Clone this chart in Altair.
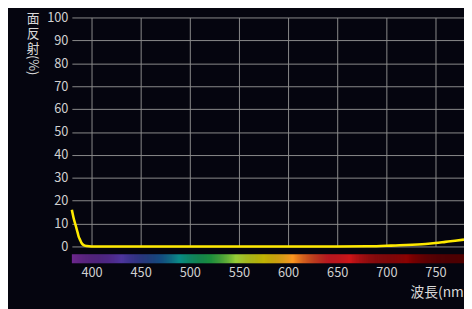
import altair as alt
import pandas as pd

# Reflectance curve
wavelength = [380, 382, 384, 386, 387, 388, 390, 392, 395, 400, 450, 500, 550, 600, 650, 680,
              700, 720, 740, 750, 760, 770, 779]
reflectance = [16.0, 12.0, 9.0, 5.8, 4.2, 3.2, 1.4, 0.6, 0.2, 0.0, 0.0, 0.0, 0.0, 0.0, 0.0, 0.05,
               0.3, 0.6, 1.1, 1.5, 2.0, 2.5, 3.0]

# Spectrum colour stops
spec_wl = [380, 420, 445, 470, 490, 520, 550, 575, 600, 640, 680, 730, 779]
spec_colors = ["#7d2ea0", "#5c30a0", "#3e40a0", "#1a60a0", "#0a9088", "#22bb4e", "#aad434",
               "#ffee00", "#ffa620", "#f01e26", "#b81010", "#820000", "#500000"]

x_ticks = [400, 450, 500, 550, 600, 650, 700, 750]
y_ticks = [0, 10, 20, 30, 40, 50, 60, 70, 80, 90, 100]

curve = pd.DataFrame({"wl": wavelength, "r": reflectance})
spec = pd.DataFrame({"wl": list(range(380, 779))})
spec["wl2"] = spec["wl"] + 1

FONT = "Noto Sans CJK JP"
H = 233

xscale = alt.Scale(domain=[380, 779], nice=False, zero=False)

base_x = alt.X("wl:Q", scale=xscale,
               axis=alt.Axis(values=x_ticks, title="波長(nm)", titleX=403, titleY=47,
                             titleAlign="right", titleBaseline="middle", titleAngle=0,
                             titleFontSize=14, titleFontWeight="normal", titleColor="#d8d8d8",
                             titleFont=FONT,
                             labelPadding=21, labelBaseline="top", labelFontSize=13,
                             labelColor="#d0d0d0", labelFont=FONT, tickSize=0, domain=False,
                             gridColor="#8c8c8c", gridWidth=1))

line = alt.Chart(curve).mark_line(color="#ffea00", strokeWidth=2.6, interpolate="monotone").encode(
    x=base_x,
    y=alt.Y("r:Q", scale=alt.Scale(domain=[0, 100], nice=False),
            axis=alt.Axis(values=y_ticks, title=["面", "反", "射"], titleAngle=0,
                          titleAlign="center", titleBaseline="top", titleX=-40, titleY=-5,
                          titleLineHeight=15.5, titleFontSize=13, titleFontWeight="normal",
                          titleColor="#d8d8d8", titleFont=FONT,
                          labelFontSize=13, labelColor="#d0d0d0", labelFont=FONT,
                          labelPadding=4, tickSize=0, domain=False,
                          gridColor="#8c8c8c", gridWidth=1)),
)

spectrum = alt.Chart(spec).mark_rect().encode(
    x=alt.X("wl:Q", scale=xscale),
    x2="wl2:Q",
    y=alt.value(H + 8),
    y2=alt.value(H + 17),
    color=alt.Color("wl:Q", scale=alt.Scale(domain=spec_wl, range=spec_colors, interpolate="rgb"),
                    legend=None),
)

pct = alt.Chart(pd.DataFrame({"t": ["(%)"]})).mark_text(
    angle=90, fontSize=13, color="#d8d8d8", font=FONT, align="center", baseline="middle"
).encode(x=alt.value(-40), y=alt.value(48.5), text="t:N")

chart = alt.layer(spectrum, line, pct).properties(
    width=399, height=H,
    autosize=alt.AutoSizeParams(type="none"),
    padding={"left": 65, "top": 7, "right": 0, "bottom": 61},
    background="#05050f",
).configure_view(strokeWidth=0)

chart.save("out.html", embed_options={"renderer": "svg", "actions": False})
